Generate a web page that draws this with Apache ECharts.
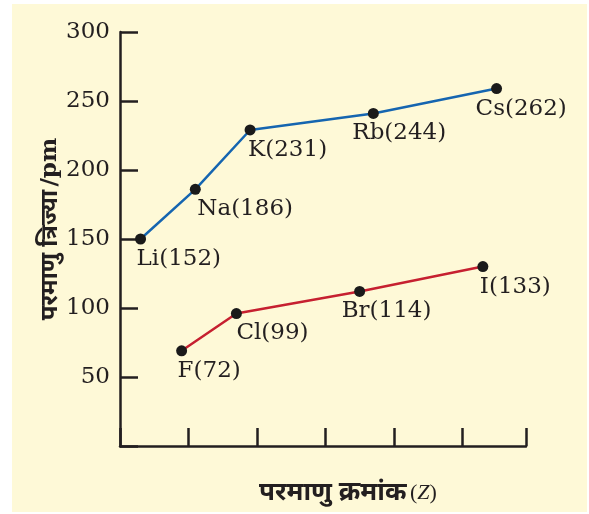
<!DOCTYPE html>
<html>
<head>
<meta charset="utf-8">
<script src="https://cdn.jsdelivr.net/npm/echarts@6/dist/echarts.min.js"></script>
<style>
html,body{margin:0;padding:0;background:#ffffff;}
#chart{width:589px;height:514px;}
</style>
</head>
<body>
<div id="chart"></div>
<script>
// Alkali metals (Group 1)
const alkaliNames = ['Li', 'Na', 'K', 'Rb', 'Cs'];
const alkaliZ = [3, 11, 19, 37, 55];
const alkaliRadiusLabel = [152, 186, 231, 244, 262];
const alkaliRadiusPlotted = [150, 186, 229, 241, 259];

// Halogens (Group 17)
const halogenNames = ['F', 'Cl', 'Br', 'I'];
const halogenZ = [9, 17, 35, 53];
const halogenRadiusLabel = [72, 99, 114, 133];
const halogenRadiusPlotted = [69, 96, 112, 130];

// Axis ticks
const yTicks = [50, 100, 150, 200, 250, 300];

// label layout (offsets of label's left edge from the point)
const alkaliLabelDx = [-4, 2, -2, -21, -21];
const halogenLabelDx = [-4, 0, -18, -3];
const labelDy = 20;

const SYM = 11;
const textFont = 'DejaVu Serif';
const textColor = '#231f20';

function buildData(zs, vals, names, labels, dxs) {
  return zs.map((z, i) => ({
    value: [z, vals[i]],
    label: {
      show: true,
      formatter: names[i] + '(' + labels[i] + ')',
      position: [dxs[i] + SYM / 2, labelDy + SYM / 2],
      align: 'left',
      verticalAlign: 'middle',
      fontFamily: textFont,
      fontSize: 23,
      color: textColor
    }
  }));
}

const chart = echarts.init(document.getElementById('chart'), null, {renderer: 'canvas'});
chart.setOption({
  animation: false,
  backgroundColor: '#ffffff',
  graphic: [{
    type: 'rect',
    z: -100,
    shape: {x: 12, y: 4, width: 575, height: 508},
    style: {fill: '#fef9d7'}
  }],
  grid: {left: 120, top: 32, right: 63, bottom: 68, containLabel: false},
  xAxis: {
    type: 'value',
    min: 0, max: 59.3, interval: 10,
    name: '{d|परमाणु क्रमांक}{s| }{p|(}{z|Z}{p|)}',
    nameLocation: 'middle',
    nameGap: 34,
    nameMoveOverlap: false,
    nameTextStyle: {
      padding: [0, 0, 0, 50],
      rich: {
        d: {fontFamily: 'Noto Sans, sans-serif', fontWeight: 'bold', fontSize: 26, color: textColor},
        s: {fontFamily: 'Liberation Serif', fontSize: 14, color: textColor},
        p: {fontFamily: 'Liberation Serif', fontSize: 22, color: textColor},
        z: {fontFamily: 'Liberation Serif', fontStyle: 'italic', fontSize: 22, color: textColor}
      }
    },
    axisLine: {show: true, lineStyle: {color: textColor, width: 2.5}},
    axisTick: {show: true, inside: true, length: 18, lineStyle: {color: textColor, width: 2.5}},
    axisLabel: {show: false},
    splitLine: {show: false}
  },
  yAxis: {
    type: 'value',
    min: 0, max: 300, interval: 50,
    name: '{d|परमाणु त्रिज्या} {p|/pm}',
    nameLocation: 'middle',
    nameRotate: 90,
    nameGap: 58,
    nameMoveOverlap: false,
    nameTextStyle: {
      padding: [0, 0, 0, 20],
      rich: {
        d: {fontFamily: 'Noto Sans, sans-serif', fontWeight: 'bold', fontSize: 24, color: textColor},
        p: {fontFamily: textFont, fontWeight: 'bold', fontSize: 23, color: textColor}
      }
    },
    axisLine: {show: true, lineStyle: {color: textColor, width: 2.5}},
    axisTick: {show: true, inside: true, length: 18, lineStyle: {color: textColor, width: 2.5}},
    axisLabel: {
      show: true,
      margin: 10,
      fontFamily: textFont,
      fontSize: 23,
      color: textColor,
      formatter: v => (yTicks.indexOf(v) >= 0 ? String(v) : '')
    },
    splitLine: {show: false}
  },
  series: [
    {
      name: 'Group 1',
      type: 'line',
      data: buildData(alkaliZ, alkaliRadiusPlotted, alkaliNames, alkaliRadiusLabel, alkaliLabelDx),
      symbol: 'circle',
      symbolSize: SYM,
      lineStyle: {color: '#1565b0', width: 2.5},
      itemStyle: {color: '#1a1a1a'},
      z: 3
    },
    {
      name: 'Group 17',
      type: 'line',
      data: buildData(halogenZ, halogenRadiusPlotted, halogenNames, halogenRadiusLabel, halogenLabelDx),
      symbol: 'circle',
      symbolSize: SYM,
      lineStyle: {color: '#c62030', width: 2.5},
      itemStyle: {color: '#1a1a1a'},
      z: 3
    }
  ]
});
</script>
</body>
</html>
